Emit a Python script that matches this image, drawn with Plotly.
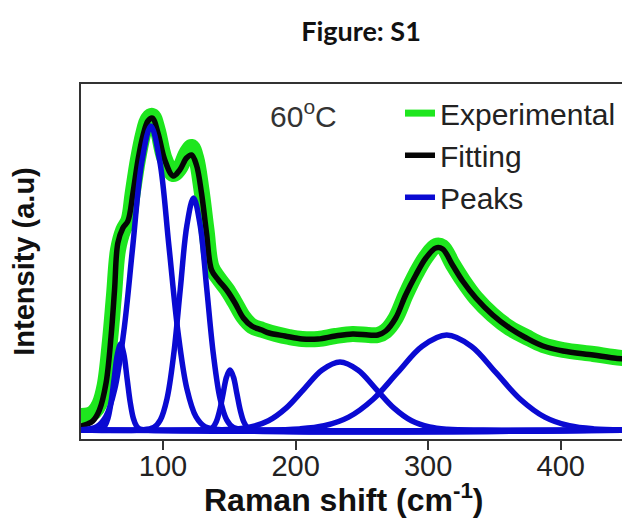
import plotly.graph_objects as go

# ---------------- data ----------------
exp_x = [38, 44, 48, 52, 56, 60, 63, 66, 70, 74, 77, 81, 85, 88.6, 92, 96, 101, 107.6,
         112.6, 117.7, 121.5, 125, 129, 132.8, 136.6, 141.7, 148, 154, 160.6, 167, 175,
         185, 195, 205, 217, 230, 243, 255, 262, 268, 275.5, 283, 290.7, 298.3, 305.8,
         310.9, 318.4, 326, 336, 348.7, 361.4, 374, 386.6, 401.8, 424.5, 440, 458.3]
exp_y = [14, 15, 18, 26, 45, 90, 135, 180, 200, 210, 236, 270, 296, 311, 314, 300, 272, 256,
         262, 277, 283, 272, 240, 200, 163, 152, 141, 128, 113, 104, 100,
         96, 93, 91, 91, 94, 96, 95, 95, 99, 112, 135, 156, 173, 184,
         183, 166, 150, 132, 115, 102, 93, 85, 80, 76, 73, 70]

fit_x = [38, 43, 47, 52, 57, 60.8, 63.4, 65.9, 69.7, 73.5, 77.3, 81.1, 84.8, 88.6, 91.9,
         96.2, 101.3, 107.6, 112.6, 117.7, 121.5, 125.2, 129, 132.8, 136.6, 141.7, 148,
         154.3, 160.6, 166.9, 174.5, 180, 192, 205, 217, 230, 243, 255, 262, 268, 275.5,
         283, 290.7, 298.3, 305.8, 310.9, 318.4, 326, 336, 348.7, 361.4, 374, 386.6,
         401.8, 424.5, 440, 458.3]
fit_y = [4, 6, 9, 20, 47, 94, 140, 187, 202, 209, 237, 270, 294, 309, 312,
         297, 270, 254, 260, 272, 275, 265, 237, 197, 160, 150, 140,
         127, 112, 104, 100, 97, 94, 91, 91, 94, 96, 95, 95, 99, 112,
         135, 155, 172, 182, 181, 165, 149, 132, 115, 102, 92, 84,
         79, 75, 72, 70]

peak1_x = [38, 48.8, 53.6, 56, 58.4, 60.8, 63.2, 65.6, 68, 70.4, 72.8, 75.2, 77.6, 80, 82.4, 87.2, 458.3]
peak1_y = [0, 0, 1.0, 3.8, 11.6, 27.9, 52.2, 75.9, 86, 75.9, 52.2, 27.9, 11.6, 3.8, 1.0, 0, 0]

peak2_x = [36.4, 50.0, 56.8, 63.6, 70.4, 77.2, 84.0, 90.8, 97.6, 104.4, 111.2, 118.0, 124.8, 131.6, 145.2, 458.3]
peak2_y = [0.1, 3.4, 13.3, 41.1, 98.7, 184.4, 268.3, 304, 268.3, 184.4, 98.7, 41.1, 13.3, 3.4, 0.1, 0]

peak3_x = [38, 83, 93, 98, 103, 108, 113, 118, 123, 128, 133, 138, 143, 148, 153, 163, 458.3]
peak3_y = [0, 0.1, 2.6, 10.2, 31.4, 75.3, 140.7, 204.7, 232, 204.7, 140.7, 75.3, 31.4, 10.2, 2.6, 0.1, 0]

peak4_x = [38, 129.7, 134.9, 137.5, 140.1, 142.7, 145.3, 147.9, 150.5, 153.1, 155.7, 158.3, 160.9, 163.5, 166.1, 171.3, 458.3]
peak4_y = [0, 0, 0.7, 2.6, 8.1, 19.5, 36.4, 53.0, 60, 53.0, 36.4, 19.5, 8.1, 2.6, 0.7, 0, 0]

peak5_x = [38, 125.5, 152.5, 166, 179.5, 193, 206.5, 220, 233.5, 247, 260.5, 274, 287.5, 301, 314.5, 341.5, 458.3]
peak5_y = [0, 0, 0.8, 3.0, 9.2, 22.1, 41.2, 60.0, 68, 60.0, 41.2, 22.1, 9.2, 3.0, 0.8, 0, 0]

peak6_x = [38, 166, 203, 221.5, 240, 258.5, 277, 295.5, 314, 332.5, 351, 369.5, 388, 406.5, 425, 462]
peak6_y = [0, 0, 1.1, 4.2, 12.9, 30.8, 57.6, 83.8, 95, 83.8, 57.6, 30.8, 12.9, 4.2, 1.1, 0]

peaks = [(peak1_x, peak1_y), (peak2_x, peak2_y), (peak3_x, peak3_y),
         (peak4_x, peak4_y), (peak5_x, peak5_y), (peak6_x, peak6_y)]

x_ticks = [100, 200, 300, 400]

GREEN = "#1ee61e"
BLACK = "#050505"
BLUE = "#0a0ad2"
FONT = "Liberation Sans, Arial, sans-serif"

fig = go.Figure()
# legend entry for the experimental band (thin copy underneath the thick band)
fig.add_trace(go.Scatter(x=exp_x, y=exp_y, mode="lines", name="Experimental", legend="legend",
                         legendgroup="exp", line=dict(color=GREEN, width=7, shape="spline")))
fig.add_trace(go.Scatter(x=exp_x, y=exp_y, mode="lines", name="Experimental", legend="legend",
                         legendgroup="exp", showlegend=False,
                         line=dict(color=GREEN, width=16, shape="spline")))
fig.add_trace(go.Scatter(x=fit_x, y=fit_y, mode="lines", name="Fitting", legend="legend2",
                         line=dict(color=BLACK, width=5.5, shape="spline")))
for i, (px, py) in enumerate(peaks):
    fig.add_trace(go.Scatter(x=px, y=py, mode="lines", name="Peaks", legend="legend3",
                             legendgroup="peaks", showlegend=(i == 0),
                             line=dict(color=BLUE, width=5.5, shape="spline")))

leg_common = dict(x=0.5727, xanchor="left", yanchor="middle",
                  bgcolor="rgba(0,0,0,0)", font=dict(size=30, family=FONT, color="#222"))

fig.update_layout(
    width=630, height=519,
    margin=dict(l=73, r=0, t=76, b=88),
    paper_bgcolor="white", plot_bgcolor="white",
    font=dict(family=FONT, color="#222"),
    title=dict(text="Figure: S1", x=0.5603, xref="container", xanchor="center",
               y=0.954, yref="container", yanchor="middle",
               font=dict(family="Lato, Open Sans, sans-serif", size=27, color="#111", weight="bold")),
    legend=dict(y=0.918, **leg_common),
    legend2=dict(y=0.7995, **leg_common),
    legend3=dict(y=0.681, **leg_common),
    showlegend=True,
)
fig.update_xaxes(range=[38.1, 458.3], tickvals=x_ticks, ticks="outside", ticklen=9,
                 tickwidth=1.5, tickcolor="#333", showline=True, linecolor="#333",
                 linewidth=1.5, mirror=True, showgrid=False, zeroline=False,
                 ticklabelstandoff=-9,
                 tickfont=dict(size=29, family=FONT, color="#222"))
fig.update_yaxes(range=[-9, 346], showticklabels=False, ticks="", showline=True,
                 linecolor="#333", linewidth=1.5, mirror=False, showgrid=False, zeroline=False,
                 title=dict(text="Intensity (a.u)", standoff=36,
                            font=dict(size=29, family=FONT, color="#111", weight="bold")))
# x-axis title (placed as an annotation so its centre matches the reference)
fig.add_annotation(text="Raman shift (cm<sup>-1</sup>)", x=0.4713, y=-0.2282,
                   xref="paper", yref="paper", xanchor="center", yanchor="bottom",
                   showarrow=False,
                   font=dict(size=32, family=FONT, color="#111", weight="bold"))
fig.add_annotation(text="60<sup>o</sup>C", x=0.3357, y=0.915, xref="paper", yref="paper",
                   xanchor="left", yanchor="middle", showarrow=False,
                   font=dict(size=30, family=FONT, color="#333"))

fig.write_html("out.html")
